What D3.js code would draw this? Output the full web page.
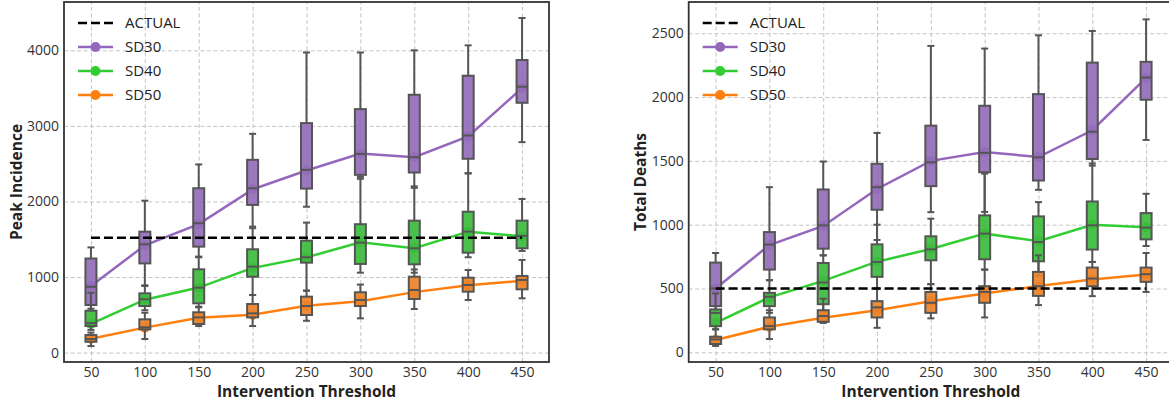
<!DOCTYPE html>
<html>
<head>
<meta charset="utf-8">
<script src="https://cdn.jsdelivr.net/npm/d3@7"></script>
<style>
body { margin: 0; background: #fff; }
text { font-family: "Open Sans", sans-serif; }
</style>
</head>
<body>
<svg></svg>
<script>
const thresholds = [50, 100, 150, 200, 250, 300, 350, 400, 450];
const seriesNames = ["SD30", "SD40", "SD50"];

// box values per threshold: [whisker low, q1, median, q3, whisker high]
const peakSD30 = [[580,629,870,1245,1392],[890,1180,1433,1600,2010],[1270,1402,1712,2175,2490],[1667,1954,2175,2551,2895],[1930,2170,2418,3037,3972],[2325,2352,2630,3222,3972],[2180,2383,2586,3412,4000],[2375,2565,2873,3664,4066],[2785,3306,3518,3872,4428]];
const peakSD40 = [[300,351,390,554,792],[560,616,705,784,881],[599,652,859,1102,1261],[762,1004,1137,1367,1646],[819,1190,1261,1481,1720],[1057,1173,1455,1699,2300],[1057,1168,1380,1746,2200],[1261,1322,1601,1864,2370],[1345,1380,1544,1746,2033]];
const peakSD50 = [[86,143,179,232,265],[179,307,334,440,527],[351,378,466,533,607],[351,466,519,643,762],[421,497,616,740,819],[453,616,696,798,900],[576,709,828,1004,1100],[696,806,894,991,1093],[718,837,961,1014,1226]];
const peakLineSD30 = [880, 1420, 1700, 2160, 2410, 2635, 2585, 2860, 3500];
const peakLineSD40 = [380, 700, 860, 1120, 1260, 1460, 1380, 1600, 1540];
const peakLineSD50 = [183, 330, 460, 500, 620, 680, 800, 890, 950];
const peakActual = 1520;

const deathSD30 = [[305,362,500,703,778],[565,648,844,942,1294],[760,812,995,1276,1495],[880,1117,1294,1477,1719],[1098,1302,1489,1776,2401],[1100,1411,1563,1932,2380],[1273,1346,1528,2023,2484],[1463,1515,1729,2270,2518],[1664,1979,2153,2276,2609]];
const deathSD40 = [[180,205,309,336,461],[309,362,435,466,565],[320,377,547,700,760],[500,591,708,846,1000],[534,721,807,909,1047],[648,729,930,1073,1400],[600,713,864,1065,1177],[708,805,995,1182,1480],[833,885,977,1091,1242]];
const deathSD50 = [[50,65,101,122,180],[104,180,205,273,330],[230,239,284,330,420],[192,273,352,401,500],[266,309,388,473,534],[273,388,473,518,648],[370,442,518,630,760],[440,518,578,664,708],[473,552,612,664,778]];
const deathLineSD30 = [500, 840, 990, 1280, 1500, 1570, 1530, 1740, 2150];
const deathLineSD40 = [230, 430, 560, 710, 810, 930, 870, 1000, 980];
const deathLineSD50 = [96, 200, 270, 330, 400, 460, 520, 570, 610];
const deathActual = 500;

const peakTicks = [0, 1000, 2000, 3000, 4000];
const deathTicks = [0, 500, 1000, 1500, 2000, 2500];

const lineColors = ["#9467bd", "#32cd32", "#ff7f0e"];
const boxColors = ["#946cb8", "#3dbb3d", "#ea832a"];

const svg = d3.select("svg")
    .attr("width", 1169)
    .attr("height", 409);

const panels = [
    {left: 64, right: 549, yDomain: [-125, 4640], yTicks: peakTicks, yLabel: "Peak Incidence", labelX: 22,
     boxes: [peakSD30, peakSD40, peakSD50], lines: [peakLineSD30, peakLineSD40, peakLineSD50], actual: peakActual},
    {left: 688.7, right: 1173, yDomain: [-76, 2745], yTicks: deathTicks, yLabel: "Total Deaths", labelX: 646,
     boxes: [deathSD30, deathSD40, deathSD50], lines: [deathLineSD30, deathLineSD40, deathLineSD50], actual: deathActual}
];

const plotTop = 2, plotBottom = 362;

panels.forEach(p => {
    const x = d3.scaleLinear().domain([25, 475]).range([p.left, p.right]);
    const y = d3.scaleLinear().domain(p.yDomain).range([plotBottom, plotTop]);
    const g = svg.append("g");

    // grid
    g.append("g")
        .attr("transform", "translate(0," + plotBottom + ")")
        .call(d3.axisBottom(x).tickValues(thresholds).tickSize(-(plotBottom - plotTop)).tickFormat(""))
        .call(a => a.select(".domain").remove())
        .selectAll("line")
        .attr("stroke", "#c4c4c4")
        .attr("stroke-dasharray", "4,2.5");
    g.append("g")
        .attr("transform", "translate(" + p.left + ",0)")
        .call(d3.axisLeft(y).tickValues(p.yTicks).tickSize(-(p.right - p.left)).tickFormat(""))
        .call(a => a.select(".domain").remove())
        .selectAll("line")
        .attr("stroke", "#c4c4c4")
        .attr("stroke-dasharray", "4,2.5");

    // tick labels
    g.append("g")
        .attr("transform", "translate(0," + plotBottom + ")")
        .call(d3.axisBottom(x).tickValues(thresholds).tickSize(0).tickPadding(5).tickFormat(d3.format("d")))
        .call(a => a.select(".domain").remove())
        .selectAll("text")
        .attr("font-family", "Open Sans")
        .attr("font-size", 14)
        .attr("fill", "#333");
    g.append("g")
        .attr("transform", "translate(" + p.left + ",0)")
        .call(d3.axisLeft(y).tickValues(p.yTicks).tickSize(0).tickPadding(5).tickFormat(d3.format("d")))
        .call(a => a.select(".domain").remove())
        .selectAll("text")
        .attr("font-family", "Open Sans")
        .attr("font-size", 14)
        .attr("fill", "#333");

    // mean lines with markers
    p.lines.forEach((vals, i) => {
        const line = d3.line()
            .x((d, j) => x(thresholds[j]))
            .y(d => y(d));
        g.append("path")
            .datum(vals)
            .attr("fill", "none")
            .attr("stroke", lineColors[i])
            .attr("stroke-width", 2.5)
            .attr("d", line);
        g.selectAll(null)
            .data(vals)
            .enter().append("circle")
            .attr("cx", (d, j) => x(thresholds[j]))
            .attr("cy", d => y(d))
            .attr("r", 5)
            .attr("fill", lineColors[i]);
    });

    // box plots
    const bw = 11, cw = 7;
    p.boxes.forEach((series, i) => {
        series.forEach((b, j) => {
            const cx = x(thresholds[j]);
            const bg = g.append("g")
                .attr("stroke", "#555")
                .attr("stroke-width", 2);
            bg.append("line").attr("x1", cx).attr("x2", cx).attr("y1", y(b[0])).attr("y2", y(b[1]));
            bg.append("line").attr("x1", cx).attr("x2", cx).attr("y1", y(b[3])).attr("y2", y(b[4]));
            bg.append("line").attr("x1", cx - cw / 2).attr("x2", cx + cw / 2).attr("y1", y(b[0])).attr("y2", y(b[0]));
            bg.append("line").attr("x1", cx - cw / 2).attr("x2", cx + cw / 2).attr("y1", y(b[4])).attr("y2", y(b[4]));
            bg.append("rect")
                .attr("x", cx - bw / 2)
                .attr("width", bw)
                .attr("y", y(b[3]))
                .attr("height", y(b[1]) - y(b[3]))
                .attr("fill", boxColors[i])
                .attr("fill-opacity", 0.92);
            bg.append("line").attr("x1", cx - bw / 2).attr("x2", cx + bw / 2).attr("y1", y(b[2])).attr("y2", y(b[2]));
        });
    });

    // actual line
    g.append("line")
        .attr("x1", x(50))
        .attr("x2", x(450))
        .attr("y1", y(p.actual))
        .attr("y2", y(p.actual))
        .attr("stroke", "#000")
        .attr("stroke-width", 2.5)
        .attr("stroke-dasharray", "9,4");

    // frame
    g.append("rect")
        .attr("x", p.left)
        .attr("y", plotTop)
        .attr("width", p.right - p.left)
        .attr("height", plotBottom - plotTop)
        .attr("fill", "none")
        .attr("stroke", "#333")
        .attr("stroke-width", 1.8);

    // axis labels
    g.append("text")
        .attr("transform", "translate(" + p.labelX + "," + ((plotTop + plotBottom) / 2) + ") rotate(-90)")
        .attr("text-anchor", "middle")
        .attr("font-size", 15.5)
        .attr("font-weight", "bold")
        .attr("fill", "#222")
        .text(p.yLabel);
    g.append("text")
        .attr("x", (x(25) + x(475)) / 2)
        .attr("y", 397)
        .attr("text-anchor", "middle")
        .attr("font-size", 15.5)
        .attr("font-weight", "bold")
        .attr("fill", "#222")
        .text("Intervention Threshold");

    // legend
    const lx = p.left + 14;
    const leg = g.append("g");
    const rows = ["ACTUAL"].concat(seriesNames);
    rows.forEach((name, k) => {
        const ly = 23 + k * 24;
        if (k === 0) {
            leg.append("line")
                .attr("x1", lx).attr("x2", lx + 35).attr("y1", ly).attr("y2", ly)
                .attr("stroke", "#000").attr("stroke-width", 2.5).attr("stroke-dasharray", "9,4");
        } else {
            leg.append("line")
                .attr("x1", lx).attr("x2", lx + 35).attr("y1", ly).attr("y2", ly)
                .attr("stroke", lineColors[k - 1]).attr("stroke-width", 2.5);
            leg.append("circle")
                .attr("cx", lx + 17.5).attr("cy", ly).attr("r", 5)
                .attr("fill", lineColors[k - 1]);
        }
        leg.append("text")
            .attr("x", lx + 47)
            .attr("y", ly)
            .attr("dy", "0.35em")
            .attr("font-size", 15)
            .attr("fill", "#222")
            .text(name);
    });
});
</script>
</body>
</html>
